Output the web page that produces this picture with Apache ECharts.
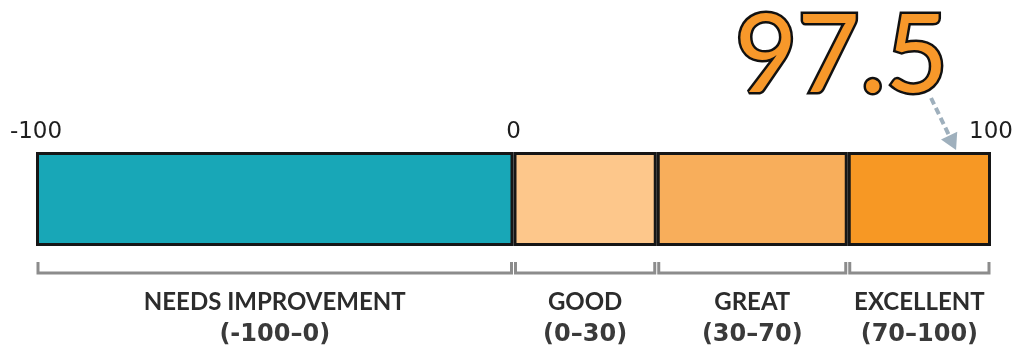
<!DOCTYPE html>
<html>
<head>
<meta charset="utf-8">
<style>
  html, body { margin: 0; padding: 0; background: #ffffff; }
  #chart { width: 1013px; height: 348px; }
</style>
<script src="https://cdn.jsdelivr.net/npm/echarts@6/dist/echarts.min.js"></script>
</head>
<body>
<div id="chart"></div>
<script>
// Score bands: [start, end]
var bandNames = ['NEEDS IMPROVEMENT', 'GOOD', 'GREAT', 'EXCELLENT'];
var bandRanges = ['(-100\u20130)', '(0\u201330)', '(30\u201370)', '(70\u2013100)'];
var bandStarts = [-100, 0, 30, 70];
var bandEnds = [0, 30, 70, 100];
var bandColors = ['#18a7b7', '#fdc78b', '#f8ae5b', '#f79824'];
var axisTicks = [-100, 0, 100];
var score = 97.5;

var chart = echarts.init(document.getElementById('chart'), null, { renderer: 'canvas' });

// Stacked bar segments: negative band stacks leftwards from 0, positive bands stack rightwards
var barSeries = bandNames.map(function (name, i) {
  return {
    name: name,
    type: 'bar',
    stack: 'scale',
    barWidth: '100%',
    silent: true,
    data: [bandStarts[i] < 0 ? bandStarts[i] - bandEnds[i] : bandEnds[i] - bandStarts[i]],
    itemStyle: { color: bandColors[i], borderColor: '#161616', borderWidth: 3 },
    z: 2
  };
});

var bandData = bandNames.map(function (name, i) {
  return [bandStarts[i], bandEnds[i]];
});

// Brackets and labels under each band
var bracketSeries = {
  type: 'custom',
  silent: true,
  clip: false,
  encode: { x: [0, 1] },
  data: bandData,
  renderItem: function (params, api) {
    var i = params.dataIndex;
    var a = api.coord([api.value(0), 0]);
    var b = api.coord([api.value(1), 0]);
    var band = api.size([0, 1])[1];
    var bottom = a[1] + band / 2;
    var x0 = a[0] + 2, x1 = b[0] - 2;
    var yTop = bottom + 16, yLine = bottom + 27;
    var cx = (a[0] + b[0]) / 2;
    var lineStyle = { stroke: '#8c8c8c', lineWidth: 3, fill: null };
    return {
      type: 'group',
      children: [
        { type: 'polyline', shape: { points: [[x0, yTop], [x0, yLine], [x1, yLine], [x1, yTop]] }, style: lineStyle },
        { type: 'text', style: { text: bandNames[i], x: cx, y: bottom + 56, align: 'center', verticalAlign: 'middle',
          font: 'bold 24px Lato', fill: '#2c2c2c' } },
        { type: 'text', style: { text: bandRanges[i], x: cx, y: bottom + 89, align: 'center', verticalAlign: 'middle',
          font: 'bold 24px "DejaVu Sans"', fill: '#3a3a3a' } }
      ]
    };
  },
  z: 3
};

// Score callout with dashed arrow toward the bar
var scoreSeries = {
  type: 'custom',
  silent: true,
  clip: false,
  encode: { x: 0 },
  data: [[score]],
  renderItem: function (params, api) {
    var p = api.coord([api.value(0), 0]);
    var band = api.size([0, 1])[1];
    var top = p[1] - band / 2;
    var tip = [p[0] - 23, top - 2];
    var start = [p[0] - 48, top - 54];
    var dx = tip[0] - start[0], dy = tip[1] - start[1];
    var len = Math.sqrt(dx * dx + dy * dy);
    var ux = dx / len, uy = dy / len;
    var headLen = 16, headHalf = 9;
    var base = [tip[0] - ux * headLen, tip[1] - uy * headLen];
    return {
      type: 'group',
      children: [
        { type: 'line', shape: { x1: start[0], y1: start[1], x2: base[0], y2: base[1] },
          style: { stroke: '#9fb0bd', lineWidth: 4, lineDash: [7, 4] } },
        { type: 'polygon', shape: { points: [
            tip,
            [base[0] - uy * headHalf, base[1] + ux * headHalf],
            [base[0] + uy * headHalf, base[1] - ux * headHalf]
          ] }, style: { fill: '#9fb0bd' } },
        { type: 'text', style: {
            text: String(api.value(0)), x: p[0] - 31, y: top - 41,
            align: 'right', verticalAlign: 'bottom',
            font: '108px Lato', fill: '#f7982a', stroke: '#111111', lineWidth: 5, strokeFirst: true,
            shadowBlur: 8, shadowColor: 'rgba(0,0,0,0.45)', shadowOffsetX: 3, shadowOffsetY: 7 } }
      ]
    };
  },
  z: 5
};

chart.setOption({
  backgroundColor: '#ffffff',
  animation: false,
  grid: { left: 36, right: 22, top: 152, height: 94, outerBoundsMode: 'none', containLabel: false },
  xAxis: {
    type: 'value',
    position: 'top',
    min: axisTicks[0],
    max: axisTicks[axisTicks.length - 1],
    interval: 100,
    axisLine: { show: false },
    axisTick: { show: false },
    splitLine: { show: false },
    axisLabel: {
      margin: 8,
      fontFamily: 'DejaVu Sans',
      fontSize: 23,
      color: '#1e1e1e',
      showMinLabel: true,
      showMaxLabel: true,
      formatter: function (v) { return axisTicks.indexOf(v) >= 0 ? String(v) : ''; }
    }
  },
  yAxis: {
    type: 'category',
    data: ['score'],
    show: false
  },
  series: barSeries.concat([bracketSeries, scoreSeries])
});
</script>
</body>
</html>
